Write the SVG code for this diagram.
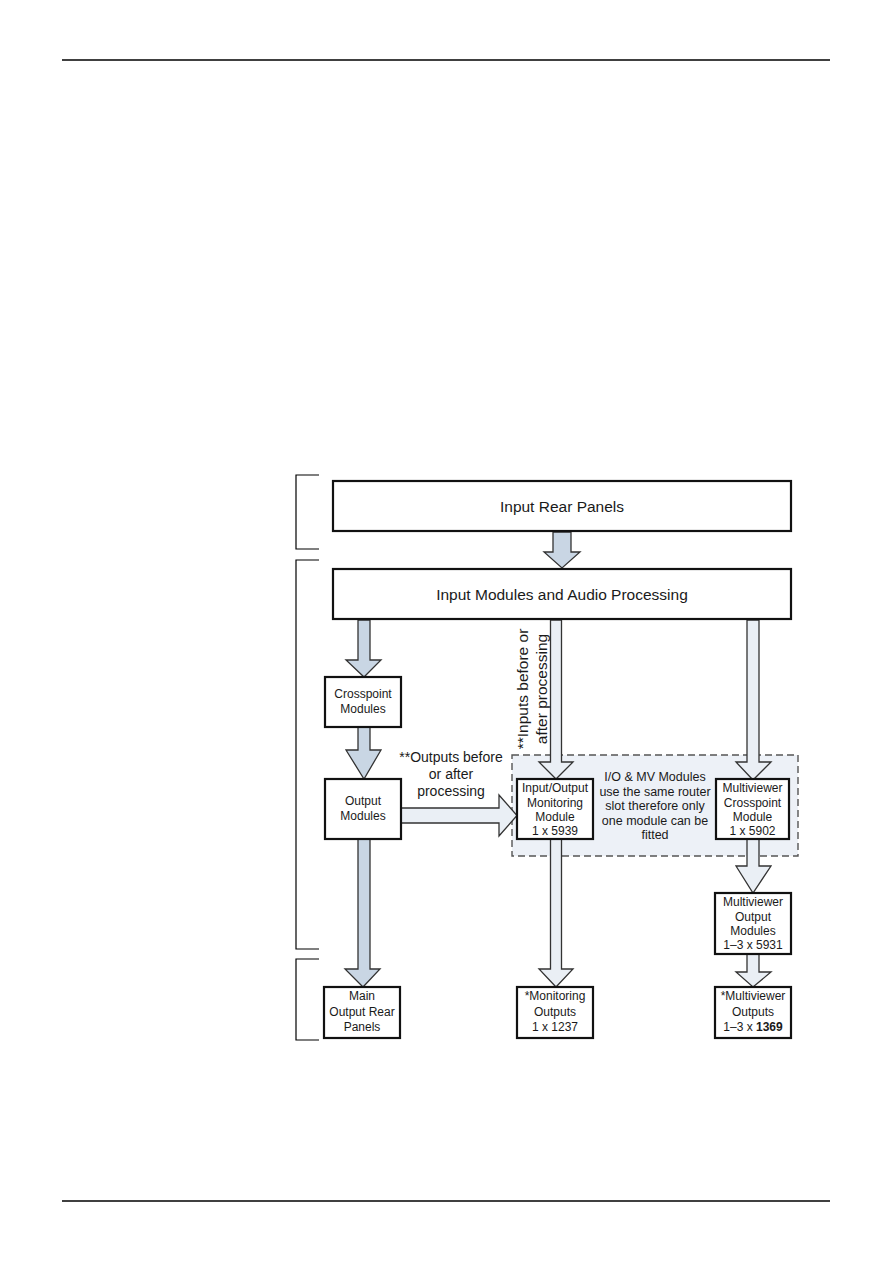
<svg xmlns="http://www.w3.org/2000/svg" width="893" height="1263" viewBox="0 0 893 1263">
<style>
.box{fill:#fff;stroke:#111;stroke-width:2.2}
.t{font-family:"Liberation Sans",Arial,sans-serif;fill:#1a1a1a;text-anchor:middle}
.big{font-size:15.5px}
.sm{font-size:12px}
.mid{font-size:12.5px}
.lbl{font-size:14px}
.rot{font-size:15.5px}
.dk{fill:#c9d6e4;stroke:#333;stroke-width:1.3;stroke-linejoin:miter}
.lt{fill:#eaeff5;stroke:#333;stroke-width:1.3;stroke-linejoin:miter}
.br{fill:none;stroke:#000;stroke-width:1.2}
.rule{stroke:#000;stroke-width:1.5}
</style>
<rect width="893" height="1263" fill="#fff"/>
<line class="rule" x1="62" y1="60" x2="830" y2="60"/>
<line class="rule" x1="62" y1="1201" x2="830" y2="1201"/>

<g id="brackets">
<polyline class="br" points="319,475 296,475 296,549 319,549"/>
<polyline class="br" points="319,560 296,560 296,949 319,949"/>
<polyline class="br" points="319,959 296,959 296,1040 319,1040"/>
</g>

<g id="mv-region">
<rect x="512" y="755" width="286" height="101" fill="#edf1f7" stroke="#555" stroke-width="1.4" stroke-dasharray="7,4"/>
<text class="t mid"><tspan x="655" y="781">I/O &amp; MV Modules</tspan><tspan x="655" y="795.5">use the same router</tspan><tspan x="655" y="810">slot therefore only</tspan><tspan x="655" y="824.5">one module can be</tspan><tspan x="655" y="839">fitted</tspan></text>
</g>

<g id="connectors">
<polygon class="dk" points="553,532 571,532 571,552 580,552 562,568 544,552 553,552"/>
<polygon class="dk" points="358,620 370,620 370,660 381,660 364,677 346,660 358,660"/>
<polygon class="dk" points="358,727 370,727 370,750 381,750 364,779 346,750 358,750"/>
<polygon class="dk" points="358,839 370,839 370,969 380,969 363,987 345,969 358,969"/>
<polygon class="lt" points="550.5,620 561.5,620 561.5,762 573,762 556,779 539,762 550.5,762"/>
<polygon class="lt" points="550.5,839 561.5,839 561.5,969 573,969 556,987 539,969 550.5,969"/>
<polygon class="lt" points="747,620 759,620 759,762 771,762 753,780 736,762 747,762"/>
<polygon class="lt" points="747,839 759,839 759,866 771,866 753,893 736,866 747,866"/>
<polygon class="lt" points="747,954 759,954 759,972 771,972 753,987 736,972 747,972"/>
<polygon class="lt" points="401,808 499,808 499,795 517,815.5 499,836 499,823 401,823"/>
<text class="t lbl"><tspan x="451" y="762">**Outputs before</tspan><tspan x="451" y="779">or after</tspan><tspan x="451" y="796">processing</tspan></text>
<text class="t rot" transform="translate(528,689) rotate(-90)"><tspan x="0" y="0">**Inputs before or</tspan><tspan x="0" y="19">after processing</tspan></text>
</g>

<g id="input-rear-panels">
<rect class="box" x="333" y="481" width="458" height="50"/>
<text class="t big" x="562" y="511.5">Input Rear Panels</text>
</g>
<g id="input-modules">
<rect class="box" x="333" y="569" width="458" height="50"/>
<text class="t big" x="562" y="599.5">Input Modules and Audio Processing</text>
</g>
<g id="crosspoint-modules">
<rect class="box" x="325" y="677" width="76" height="50"/>
<text class="t sm"><tspan x="363" y="698">Crosspoint</tspan><tspan x="363" y="713">Modules</tspan></text>
</g>
<g id="output-modules">
<rect class="box" x="325" y="779" width="76" height="60"/>
<text class="t sm"><tspan x="363" y="805">Output</tspan><tspan x="363" y="820">Modules</tspan></text>
</g>
<g id="io-monitoring-module">
<rect class="box" x="517" y="779" width="76" height="60"/>
<text class="t sm"><tspan x="555" y="792">Input/Output</tspan><tspan x="555" y="806.5">Monitoring</tspan><tspan x="555" y="821">Module</tspan><tspan x="555" y="835">1 x 5939</tspan></text>
</g>
<g id="mv-crosspoint-module">
<rect class="box" x="716" y="779" width="73" height="60"/>
<text class="t sm"><tspan x="752.5" y="792">Multiviewer</tspan><tspan x="752.5" y="806.5">Crosspoint</tspan><tspan x="752.5" y="821">Module</tspan><tspan x="752.5" y="835">1 x 5902</tspan></text>
</g>
<g id="mv-output-modules">
<rect class="box" x="715" y="893" width="76" height="61"/>
<text class="t sm"><tspan x="753" y="906">Multiviewer</tspan><tspan x="753" y="921">Output</tspan><tspan x="753" y="935">Modules</tspan><tspan x="753" y="949">1–3 x 5931</tspan></text>
</g>
<g id="main-output-rear-panels">
<rect class="box" x="324" y="987" width="76" height="51"/>
<text class="t sm"><tspan x="362" y="1000">Main</tspan><tspan x="362" y="1016">Output Rear</tspan><tspan x="362" y="1031">Panels</tspan></text>
</g>
<g id="monitoring-outputs">
<rect class="box" x="517" y="987" width="76" height="51"/>
<text class="t sm"><tspan x="555" y="1000">*Monitoring</tspan><tspan x="555" y="1016">Outputs</tspan><tspan x="555" y="1031">1 x 1237</tspan></text>
</g>
<g id="mv-outputs">
<rect class="box" x="715" y="987" width="76" height="51"/>
<text class="t sm"><tspan x="753" y="1000">*Multiviewer</tspan><tspan x="753" y="1016">Outputs</tspan><tspan x="753" y="1031">1–3 x <tspan font-weight="bold">1369</tspan></tspan></text>
</g>
</svg>
